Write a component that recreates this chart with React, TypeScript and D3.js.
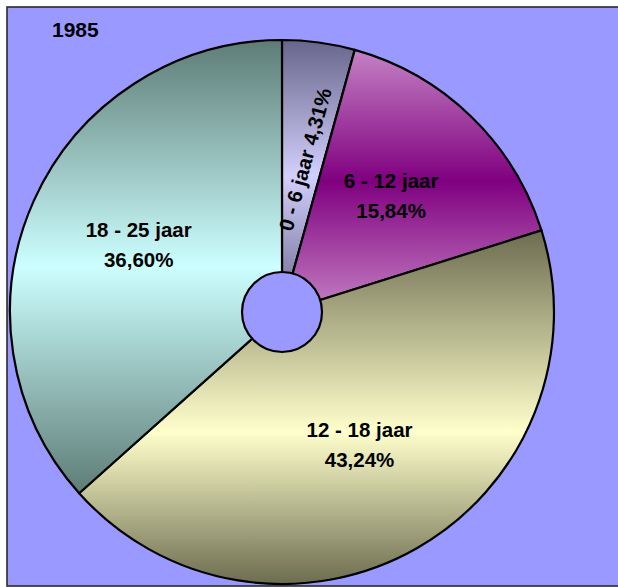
import React from "react";
import * as d3 from "d3";

const title = "1985";
const categories = ["0 - 6 jaar", "6 - 12 jaar", "12 - 18 jaar", "18 - 25 jaar"];
const values = [4.31, 15.84, 43.24, 36.6];
const percentLabels = ["4,31%", "15,84%", "43,24%", "36,60%"];

const lightColors = ["#d2d0fc", "#800080", "#ffffcc", "#ccffff"];
const darkColors = ["#67658a", "#c482c4", "#6c6c50", "#5e7c76"];
const midStops = [0.5, 0.5, 0.57, 0.5];

const W = 618;
const H = 587;
const cx = 282;
const cy = 312;
const R = 272;
const holeR = 40;
const labelR = 157;
const FONT = "'Liberation Sans', Arial, Helvetica, sans-serif";

export default function App() {
  const pie = d3
    .pie<number>()
    .sort(null)
    .startAngle(0)
    .endAngle(2 * Math.PI)
    .value((d) => d);
  const arcs = pie(values);
  const arc = d3.arc<d3.PieArcDatum<number>>().innerRadius(0).outerRadius(R);
  const labelArc = d3
    .arc<d3.PieArcDatum<number>>()
    .innerRadius(labelR)
    .outerRadius(labelR);

  return (
    <svg
      width={W}
      height={H}
      style={{ position: "absolute", left: 0, top: 0, display: "block" }}
    >
      <defs>
        {arcs.map((a, i) => (
          <linearGradient key={i} id={`g${i}`} x1="0" y1="0" x2="0" y2="1">
            <stop offset="0" stopColor={darkColors[i]} />
            <stop offset={midStops[i]} stopColor={lightColors[i]} />
            <stop offset="1" stopColor={darkColors[i]} />
          </linearGradient>
        ))}
      </defs>
      <rect x={0} y={0} width={W} height={H} fill="#ffffff" />
      <rect
        x={7}
        y={7}
        width={W + 10}
        height={579}
        fill="#9999ff"
        stroke="#2a2a2a"
        strokeWidth={1.6}
      />
      <text
        x={52}
        y={36.5}
        fontFamily={FONT}
        fontWeight="bold"
        fontSize={21}
        fill="#000"
      >
        {title}
      </text>
      <g transform={`translate(${cx},${cy})`}>
        {arcs.map((a, i) => (
          <path
            key={i}
            d={arc(a) || ""}
            fill={`url(#g${i})`}
            stroke="#000"
            strokeWidth={2.2}
            strokeLinejoin="round"
          />
        ))}
        <circle r={holeR} fill="#9999ff" stroke="#000" strokeWidth={2.2} />
        {arcs.map((a, i) => {
          const [lx, ly] = labelArc.centroid(a);
          const span = a.endAngle - a.startAngle;
          if (span < 0.3) {
            const rot = -74.4;
            return (
              <text
                key={i}
                transform={`translate(${lx + 2},${ly + 3}) rotate(${rot})`}
                textAnchor="middle"
                dy="0.35em"
                fontFamily={FONT}
                fontWeight="bold"
                fontSize={20.5}
                fill="#000"
              >
                {`${categories[i]} ${percentLabels[i]}`}
              </text>
            );
          }
          return (
            <g key={i}>
              <text
                x={lx}
                y={ly - 11}
                textAnchor="middle"
                fontFamily={FONT}
                fontWeight="bold"
                fontSize={20.5}
                fill="#000"
              >
                {categories[i]}
              </text>
              <text
                x={lx}
                y={ly + 19}
                textAnchor="middle"
                fontFamily={FONT}
                fontWeight="bold"
                fontSize={20.5}
                fill="#000"
              >
                {percentLabels[i]}
              </text>
            </g>
          );
        })}
      </g>
    </svg>
  );
}
